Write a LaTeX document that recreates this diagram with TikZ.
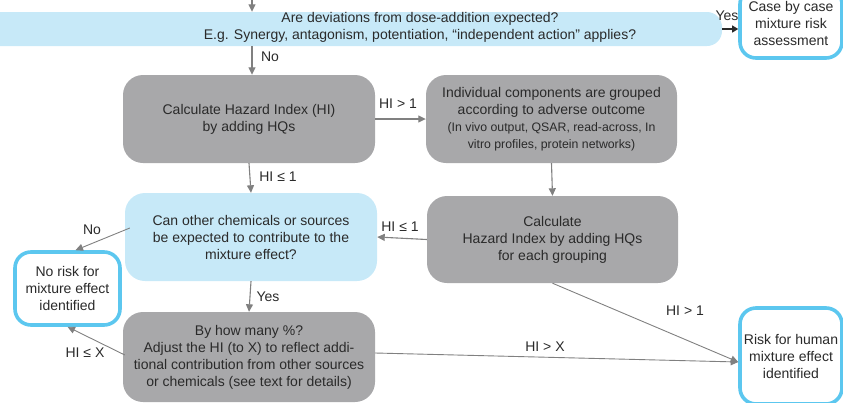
\documentclass[tikz,border=0pt]{standalone}
\usepackage{fontspec}
\setmainfont{Liberation Sans}
\usetikzlibrary{arrows.meta,calc}

\definecolor{qfill}{HTML}{C7E9F8}
\definecolor{endedge}{HTML}{5CC7EF}
\definecolor{stepfill}{HTML}{A8A8AA}
\definecolor{arrowgray}{HTML}{808080}
\definecolor{ink}{HTML}{2A2A2A}

\begin{document}
\begin{tikzpicture}[x=1pt,y=-1pt,
  every node/.style={text=ink, font=\fontsize{14}{17}\selectfont},
  stepbox/.style={fill=stepfill, rounded corners=20pt, align=center, inner sep=0pt},
  askbox/.style={fill=qfill, rounded corners=20pt, align=center, inner sep=0pt},
  endbox/.style={draw=endedge, line width=3.6pt, fill=white, rounded corners=16pt,
                 align=center, inner sep=0pt},
  flow/.style={draw=arrowgray, line width=1.1pt, -{Triangle[width=7pt,length=7.5pt]}},
  lab/.style={inner sep=0pt},
  small/.style={font=\fontsize{12.3}{16.5}\selectfont}]

\useasboundingbox (0,0) rectangle (843,402);
\clip (0,0) rectangle (843,402);

% top question bar (runs off the left edge)
\node[askbox, rounded corners=15pt, minimum width=762pt, minimum height=34pt] (dose) at (341,29) {};
\node (doseq) at (420,27.5) [align=center, inner sep=0pt]
  {Are deviations from dose-addition expected?\\
   E.g. Synergy, antagonism, potentiation, “independent action” applies?};

% end points
\node[endbox, minimum width=102pt, minimum height=70pt] (case) at (791,23)
  {Case by case\\mixture risk\\assessment};
\node[endbox, minimum width=105pt, minimum height=73pt] (norisk) at (67.5,288.5)
  {No risk for\\mixture effect\\identified};
\node[endbox, minimum width=102pt, minimum height=96pt] (risk) at (791,356)
  {Risk for human\\mixture effect\\identified};

% process steps
\node[stepbox, minimum width=252pt, minimum height=88pt] (calc) at (249,119)
  {Calculate Hazard Index (HI)\\by adding HQs};
\node[stepbox, minimum width=251pt, minimum height=88pt] (group) at (551.5,119)
  {Individual components are grouped\\according to adverse outcome\\
   {\small\fontsize{12.3}{16.5}\selectfont (In vivo output, QSAR, read-across, In}\\
   {\fontsize{12.3}{16.5}\selectfont vitro profiles, protein networks)}};
\node[askbox, minimum width=252pt, minimum height=88pt] (others) at (251,237)
  {Can other chemicals or sources\\be expected to contribute to the\\mixture effect?};
\node[stepbox, minimum width=251pt, minimum height=87pt] (calcg) at (552.5,239.5)
  {Calculate\\Hazard Index by adding HQs\\for each grouping};
\node[stepbox, minimum width=252pt, minimum height=90pt] (adjust) at (249,357)
  {By how many \%?\\Adjust the HI (to X) to reflect addi-\\tional contribution from other sources\\or chemicals (see text for details)};

% connectors
\coordinate (in) at (252,0);
\draw[flow] (in) -- (dose.north -| in);
\draw[flow] (dose.south -| in) -- (calc.north -| in);
\draw[line width=1.1pt, draw=ink, -{Triangle[width=7pt,length=6pt]}] (dose.east) -- (case.west |- dose.east);
\draw[flow] (calc.east) -- (group.west);
\draw[flow] (calc.south) -- (others.north);
\draw[flow] (group.south) -- (calcg.north);
\draw[flow] (calcg.west) -- (others.east);
\draw[flow, line width=0.9pt] ($(others.west)+(5,-9)$) -- ($(norisk.north)+(8,0)$);
\draw[flow] (others.south) -- (adjust.north);
\draw[flow, line width=0.9pt] ($(adjust.west)+(2,-2)$) -- (norisk.south);
\draw[flow, line width=0.9pt] ($(adjust.east)+(0,-4)$) -- ($(risk.west)+(0,6)$);
\draw[flow, line width=0.9pt] (calcg.south) -- ($(risk.west)+(0,6)$);

% branch labels
\node[lab] (lyes1) at (727,16) {Yes};
\node[lab] (lno1) at (270,57) {No};
\node[lab] (lgt1) at (398,104) {HI > 1};
\node[lab] (lle1) at (278,177) {HI ≤ 1};
\node[lab] (lle2) at (400,227) {HI ≤ 1};
\node[lab] (lno2) at (92,230) {No};
\node[lab] (lyes2) at (268,297) {Yes};
\node[lab] (llex) at (85,353) {HI ≤ X};
\node[lab] (lgtx) at (545,347) {HI > X};
\node[lab] (lgt2) at (685,311) {HI > 1};
\end{tikzpicture}
\end{document}
